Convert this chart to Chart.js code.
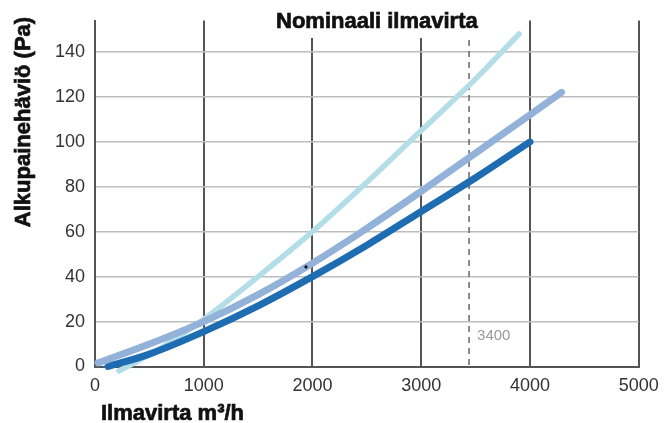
<!DOCTYPE html>
<html>
<head>
<meta charset="utf-8">
<script src="https://cdn.jsdelivr.net/npm/chart.js@4/dist/chart.umd.min.js"></script>
<style>
  html, body { margin:0; padding:0; background:#fff; }
  #wrap { width:664px; height:423px; }
</style>
</head>
<body>
<div id="wrap"><canvas id="chartPaine" width="664" height="423"></canvas></div>
<script>
// Lukemat kuvasta (ilmavirta m3/h, painehäviö Pa)
const virtaTumma  = [120, 500, 1000, 1500, 2000, 2500, 3000, 3500, 4000];
const paineTumma  = [0, 5.5, 15.5, 27, 40, 54, 69, 84, 100];
const virtaKeski  = [28, 500, 1000, 1500, 2000, 2500, 3000, 3500, 4000, 4290];
const paineKeski  = [1.6, 10, 20, 32, 46, 61.5, 78, 95, 112, 122];
const virtaVaalea = [220, 600, 1000, 1500, 2000, 2500, 3000, 3500, 3900];
const paineVaalea = [-2, 8, 21, 40, 60, 82, 105, 128, 148];
const pisteVirta  = [1940];
const pistePaine  = [44.3];

const xTicks = [0, 1000, 2000, 3000, 4000, 5000];
const yTicks = [0, 20, 40, 60, 80, 100, 120, 140];
const nominaali = 3440;      // katkoviivan paikka
const nominaaliTeksti = '3400';

const pisteet = (xs, ys) => xs.map((x, i) => ({ x, y: ys[i] }));

const viiva = (data, color, width) => ({
  data,
  borderColor: color,
  borderWidth: width,
  borderCapStyle: 'round',
  borderJoinStyle: 'round',
  pointRadius: 0,
  tension: 0.35,
  clip: false,
  showLine: true
});

// tekstit, katkoviiva ja otsikon tausta
const tekstit = {
  id: 'tekstit',
  beforeDatasetsDraw(chart) {
    const { ctx, scales: { x, y } } = chart;
    ctx.save();
    ctx.fillStyle = '#fff';
    ctx.fillRect(268, 0, 224, 38);

    const xn = x.getPixelForValue(nominaali);
    ctx.strokeStyle = '#666';
    ctx.lineWidth = 1.5;
    ctx.setLineDash([6, 5]);
    ctx.beginPath();
    ctx.moveTo(xn, 40);
    ctx.lineTo(xn, y.getPixelForValue(0));
    ctx.stroke();
    ctx.setLineDash([]);

    ctx.fillStyle = '#9a9a9a';
    ctx.font = '15px "Liberation Sans", Arial, sans-serif';
    ctx.textAlign = 'left';
    ctx.textBaseline = 'middle';
    ctx.fillText(nominaaliTeksti, xn + 8, 336);
    ctx.restore();
  },
  afterDraw(chart) {
    const { ctx } = chart;
    const teksti = (t, x, y) => { ctx.fillText(t, x, y); ctx.strokeText(t, x, y); };
    ctx.save();
    ctx.fillStyle = '#111';
    ctx.strokeStyle = '#111';
    ctx.lineWidth = 0.7;
    ctx.font = 'bold 22px "Liberation Sans", Arial, sans-serif';
    ctx.textBaseline = 'alphabetic';
    ctx.textAlign = 'left';
    teksti('Nominaali ilmavirta', 276, 28);
    teksti('Ilmavirta m³/h', 101, 420);

    ctx.translate(30, 122);
    ctx.rotate(-Math.PI / 2);
    ctx.textAlign = 'center';
    teksti('Alkupainehäviö (Pa)', 0, 0);
    ctx.restore();
  }
};

new Chart(document.getElementById('chartPaine'), {
  type: 'scatter',
  data: {
    datasets: [
      { data: pisteet(pisteVirta, pistePaine), pointRadius: 1.6, pointBackgroundColor: '#111', pointBorderWidth: 0, showLine: false },
      viiva(pisteet(virtaKeski, paineKeski), '#93b2d9', 7),
      viiva(pisteet(virtaTumma, paineTumma), '#1e6cb1', 7),
      viiva(pisteet(virtaVaalea, paineVaalea), '#b3dde7', 5.5)
    ]
  },
  options: {
    responsive: false,
    animation: false,
    devicePixelRatio: 1,
    layout: { padding: { top: 20.5, right: 25.3, left: 0, bottom: 0 } },
    plugins: { legend: { display: false }, tooltip: { enabled: false } },
    scales: {
      x: {
        type: 'linear',
        min: 0,
        max: 5000,
        afterFit: (s) => { s.height = 56.5; s.paddingLeft = 0; s.paddingRight = 0; },
        afterBuildTicks: (s) => { s.ticks = xTicks.map(v => ({ value: v })); },
        grid: { color: '#555', lineWidth: 2, drawTicks: false },
        border: { color: '#555', width: 2 },
        ticks: {
          padding: 9,
          color: '#333',
          callback: (v) => String(v),
          font: { family: '"Liberation Sans", Arial, sans-serif', size: 18 }
        }
      },
      y: {
        type: 'linear',
        min: 0,
        max: 154,
        afterFit: (s) => { s.width = 95; s.paddingTop = 0; s.paddingBottom = 0; },
        afterBuildTicks: (s) => { s.ticks = yTicks.map(v => ({ value: v })); },
        grid: { color: '#bdbdbd', lineWidth: 1.5, drawTicks: false },
        border: { color: '#555', width: 2 },
        ticks: {
          padding: 10,
          color: '#333',
          callback: (v) => String(v),
          font: { family: '"Liberation Sans", Arial, sans-serif', size: 18 }
        }
      }
    }
  },
  plugins: [tekstit]
});
</script>
</body>
</html>
